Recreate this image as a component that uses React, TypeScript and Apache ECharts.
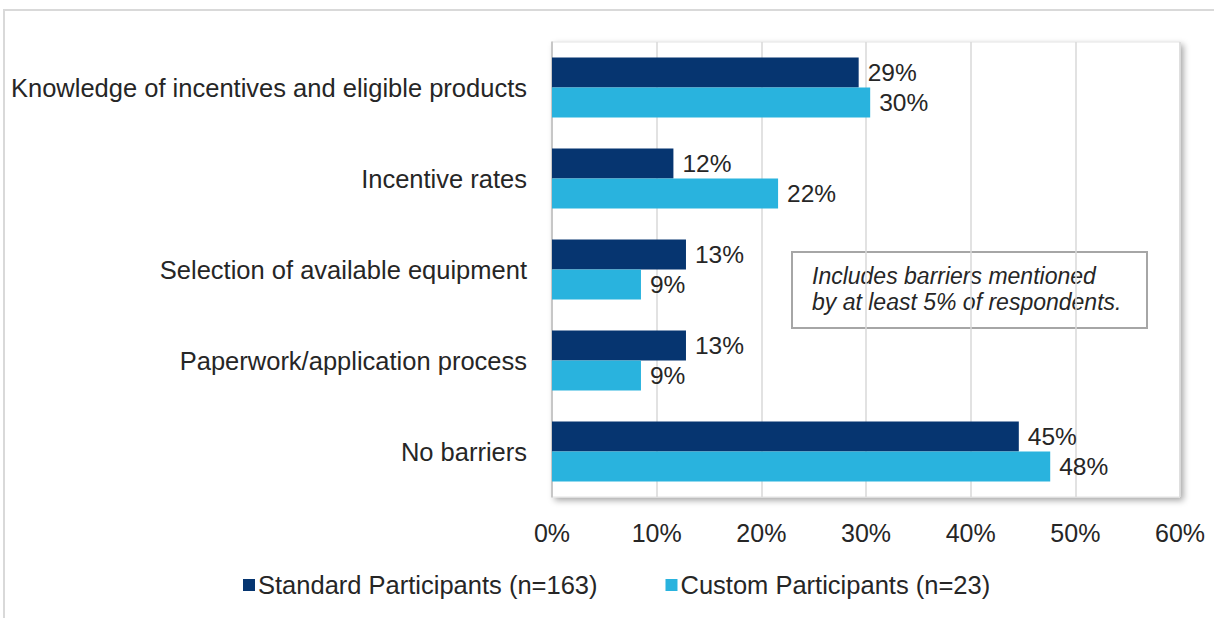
import React, { useEffect, useRef } from "react";
import * as echarts from "echarts";

const categories = [
  "Knowledge of incentives and eligible products",
  "Incentive rates",
  "Selection of available equipment",
  "Paperwork/application process",
  "No barriers",
];
const standardValues = [29.3, 11.6, 12.8, 12.8, 44.6];
const customValues = [30.4, 21.6, 8.5, 8.5, 47.6];
const seriesNames = ["Standard Participants (n=163)", "Custom Participants (n=23)"];
const noteLines = ["Includes barriers mentioned", "by at least 5% of respondents."];

const FONT = "'Liberation Sans', Arial, sans-serif";
const TXT = "#262626";

export default function App() {
  const ref = useRef<HTMLDivElement>(null);
  useEffect(() => {
    if (!ref.current) return;
    const chart = echarts.init(ref.current, null, { renderer: "svg" });
    const labelCfg = {
      show: true,
      position: "right" as const,
      distance: 9,
      color: TXT,
      fontSize: 24.5,
      fontFamily: FONT,
      formatter: (p: any) => Math.round(p.value) + "%",
    };
    chart.setOption({
      animation: false,
      backgroundColor: "#ffffff",
      textStyle: { fontFamily: FONT },
      grid: {
        left: 552,
        right: 34,
        top: 42,
        bottom: 121,
        show: true,
        backgroundColor: "#ffffff",
        borderColor: "#e3e3e3",
        borderWidth: 1,
        shadowColor: "rgba(0,0,0,0.35)",
        shadowBlur: 6,
        shadowOffsetX: 3,
        shadowOffsetY: 3,
      },
      xAxis: {
        type: "value",
        min: 0,
        max: 60,
        interval: 10,
        axisLine: { show: false },
        axisTick: { show: false },
        splitLine: { lineStyle: { color: "#d9d9d9", width: 1.5 } },
        axisLabel: {
          formatter: "{value}%",
          color: TXT,
          fontSize: 25,
          fontFamily: FONT,
          margin: 23,
        },
      },
      yAxis: {
        type: "category",
        data: categories,
        inverse: true,
        axisTick: { show: false },
        axisLine: { show: true, lineStyle: { color: "#bfbfbf", width: 1.5 } },
        axisLabel: { color: TXT, fontSize: 25.5, fontFamily: FONT, margin: 25 },
      },
      legend: {
        left: 238,
        top: 567,
        itemWidth: 12,
        itemHeight: 12,
        itemGap: 68,
        icon: "rect",
        textStyle: { color: TXT, fontSize: 25.5, fontFamily: FONT, padding: [0, 0, 0, -2] },
        data: seriesNames,
      },
      series: [
        {
          name: seriesNames[0],
          type: "bar",
          data: standardValues,
          barGap: "0%",
          barCategoryGap: "34%",
          itemStyle: { color: "#063570" },
          label: labelCfg,
        },
        {
          name: seriesNames[1],
          type: "bar",
          data: customValues,
          barGap: "0%",
          barCategoryGap: "34%",
          itemStyle: { color: "#29b3de" },
          label: labelCfg,
        },
      ],
      graphic: [
        {
          type: "rect",
          z: -10,
          silent: true,
          shape: { x: 4, y: 10, width: 1400, height: 800 },
          style: { fill: "none", stroke: "#d9d9d9", lineWidth: 2 },
        },
        {
          type: "group",
          z: 100,
          children: [
            {
              type: "rect",
              shape: { x: 792, y: 252, width: 355, height: 76 },
              style: { fill: "#ffffff", stroke: "#a6a6a6", lineWidth: 2 },
            },
            {
              type: "text",
              x: 812,
              y: 263,
              style: {
                text: noteLines.join("\n"),
                fontSize: 23,
                lineHeight: 26,
                fontStyle: "italic",
                fontFamily: FONT,
                fill: TXT,
              },
            },
          ],
        },
      ],
    });
    return () => chart.dispose();
  }, []);
  return (
    <div
      ref={ref}
      style={{ position: "fixed", left: 0, top: 0, width: 1214, height: 618 }}
    />
  );
}
